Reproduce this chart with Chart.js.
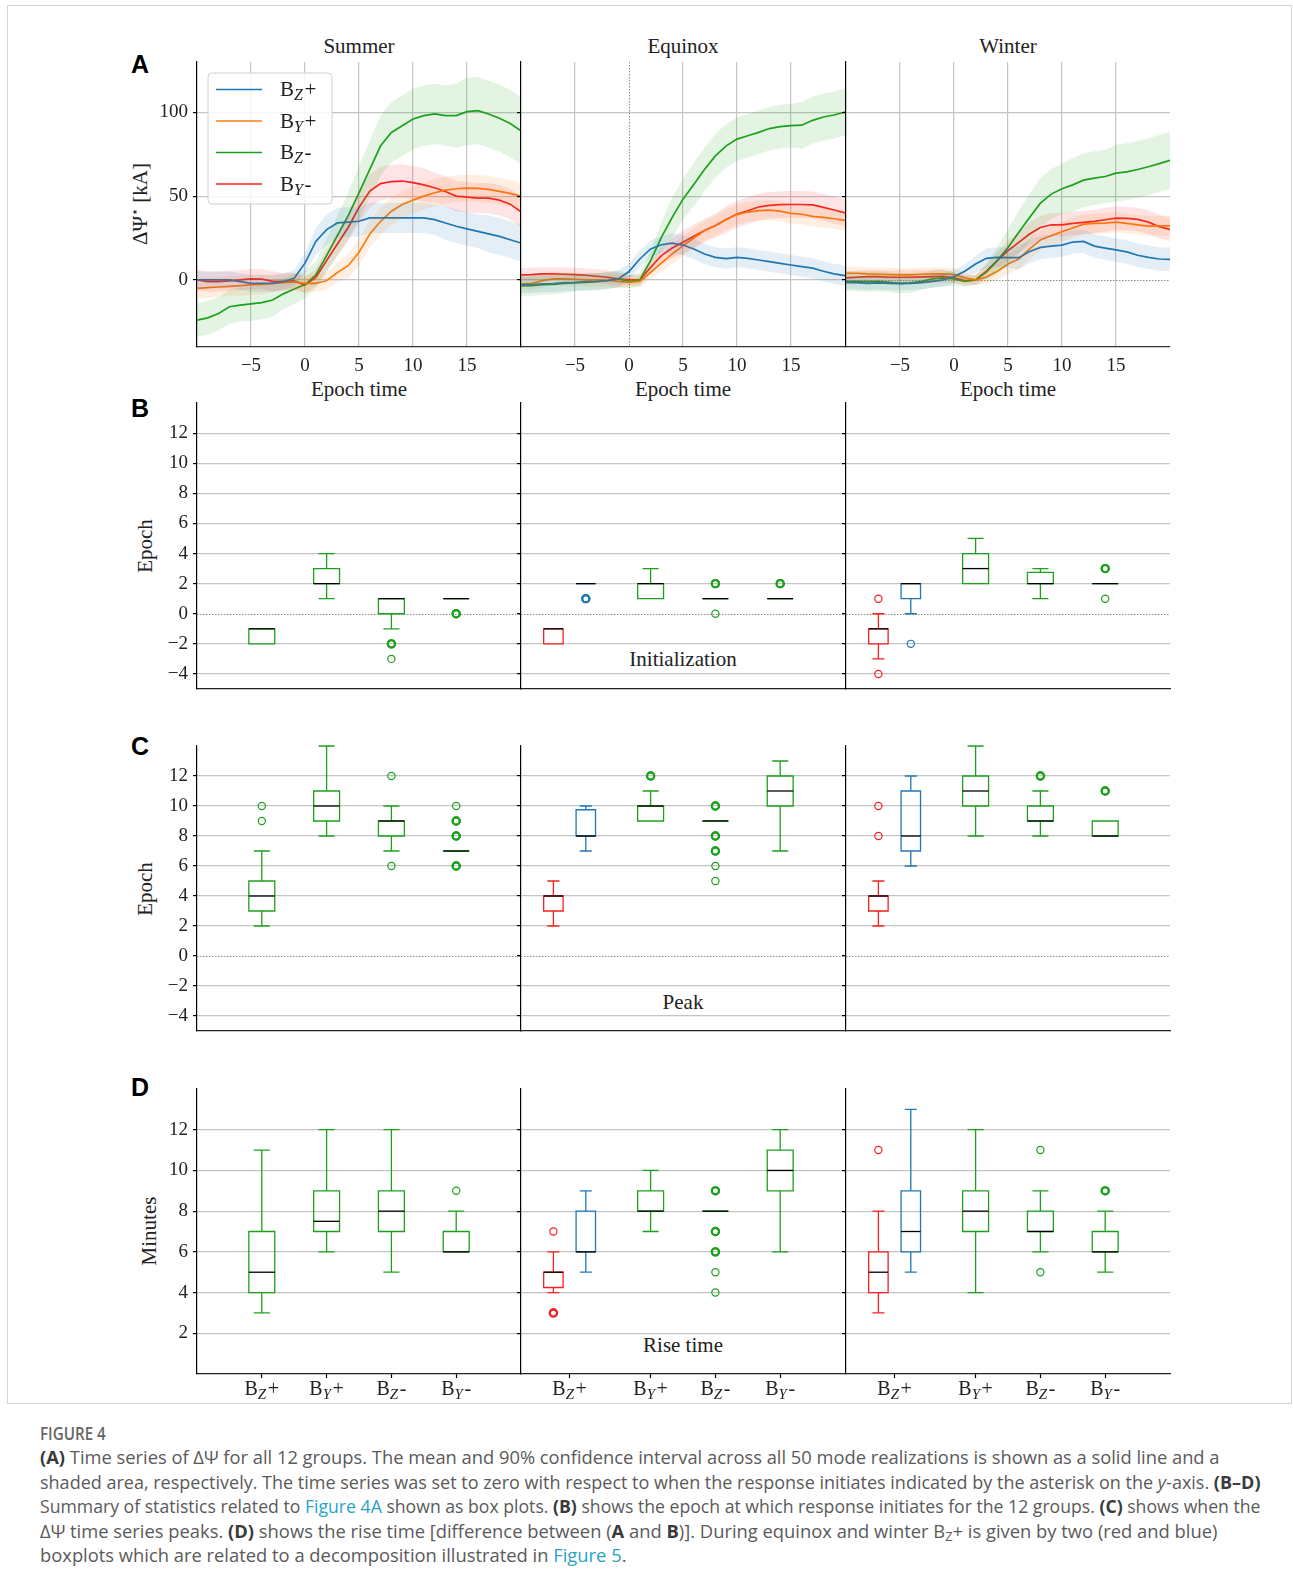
<!DOCTYPE html>
<html lang="en">
<head>
<meta charset="UTF-8">
<title>Figure 4</title>
<script src="https://cdn.jsdelivr.net/npm/chart.js"></script>
<style>
  body {
    margin: 0;
    background: #fff;
    width: 1293px;
    height: 1584px;
    position: relative;
    overflow: hidden;
    font-family: "Liberation Serif", "DejaVu Serif", serif;
  }
  .frame {
    position: absolute;
    left: 7px; top: 5px;
    width: 1283px; height: 1397px;
    border: 1px solid #d4d4d4;
  }
  canvas { position: absolute; }
  .t {
    position: absolute;
    transform: translate(-50%, -50%);
    white-space: nowrap;
    color: #222;
    font-size: 21px;
  }
  .rot { transform: translate(-50%, -50%) rotate(-90deg); }
  .letter {
    position: absolute;
    transform: translate(-50%, -50%);
    font-family: "Liberation Sans", Arial, sans-serif;
    font-weight: bold;
    font-size: 25px;
    color: #000;
  }
  .cap {
    position: absolute;
    left: 39.5px; top: 1421px;
    font-family: "Open Sans", "Noto Sans", sans-serif;
    font-size: 18px;
    line-height: 24.4px;
    color: #5a5a5a;
  }
  .cap div { white-space: nowrap; height: 24.4px; }
  .cap div > span { display: inline-block; transform-origin: 0 50%; }
  .cap .fig { font-weight: 600; color: #666; }
  .cap b { color: #3a3a3a; font-weight: 700; }
  .cap .lk { color: #2aa3c4; }
  .cap sub { font-size: 0.7em; line-height: 0; vertical-align: -0.25em; }
</style>
</head>
<body>
<div class="frame"></div>

<div class="t" style="left:359px; top:46px;">Summer</div>
<div class="t" style="left:683px; top:46px;">Equinox</div>
<div class="t" style="left:1008px; top:46px;">Winter</div>

<div class="t" style="left:359px; top:389px;">Epoch time</div>
<div class="t" style="left:683px; top:389px;">Epoch time</div>
<div class="t" style="left:1008px; top:389px;">Epoch time</div>

<div class="t rot" style="left:140px; top:204px;">ΔΨ<sup style="font-size:13px">⋆</sup> [kA]</div>
<div class="t rot" style="left:144.5px; top:546px;">Epoch</div>
<div class="t rot" style="left:144.5px; top:888.5px;">Epoch</div>
<div class="t rot" style="left:149px; top:1231px;">Minutes</div>

<div class="letter" style="left:140px; top:63.5px;">A</div>
<div class="letter" style="left:140px; top:408px;">B</div>
<div class="letter" style="left:140px; top:746px;">C</div>
<div class="letter" style="left:140px; top:1087px;">D</div>

<div class="t" style="left:683px; top:659px;">Initialization</div>
<div class="t" style="left:683px; top:1001.5px;">Peak</div>
<div class="t" style="left:683px; top:1345px;">Rise time</div>

<div class="cap" id="cap">
  <div class="fig"><span>FIGURE 4</span></div>
  <div><span><b>(A)</b> Time series of ΔΨ for all 12 groups. The mean and 90% confidence interval across all 50 mode realizations is shown as a solid line and a</span></div>
  <div><span>shaded area, respectively. The time series was set to zero with respect to when the response initiates indicated by the asterisk on the <i>y</i>-axis. <b>(B–D)</b></span></div>
  <div><span>Summary of statistics related to <span class="lk">Figure 4A</span> shown as box plots. <b>(B)</b> shows the epoch at which response initiates for the 12 groups. <b>(C)</b> shows when the</span></div>
  <div><span>ΔΨ time series peaks. <b>(D)</b> shows the rise time [difference between (<b>A</b> and <b>B</b>)]. During equinox and winter B<sub>Z</sub>+ is given by two (red and blue)</span></div>
  <div><span>boxplots which are related to a decomposition illustrated in <span class="lk">Figure 5</span>.</span></div>
</div>

<script>
  // ---- data: time series (A) ----
  const epochs = [-10,-9,-8,-7,-6,-5,-4,-3,-2,-1,0,1,2,3,4,5,6,7,8,9,10,11,12,13,14,15,16,17,18,19,20];

  // series order: Bz+, By+, Bz-, By-
  const summerBzp = [0,0,0,0,-1,-2,-2,-2,-1,1,10,23,30,34,34.5,35,37,37,37,37,37,37,36,34,32,30.5,29,27.5,26,24,22];
  const summerByp = [-5,-4.6,-4.2,-3.8,-3.4,-3,-2.6,-2,-1.6,-1.2,-2,-2,-0.5,4.4,8.5,16.5,27.4,35,41,45,47.6,50,52,53.6,54.4,54.8,54.6,54,52.8,51.6,50];
  const summerBzm = [-24,-22.6,-20,-16,-15,-14.3,-13.5,-12,-8.3,-5.4,-2.8,3,14.5,26.4,38.3,52,66,80,88,92,96,98,99,98,98,100.4,101,99,96.4,93.3,89];
  const summerBym = [0,-1,-1,-0.5,0,0.6,0.5,-0.8,-0.8,-0.6,-3,1.5,11.5,21.4,31.3,43.3,53,57.5,58.7,59,58,56.7,55,52.8,50,49.4,48.8,48.8,47.6,45.2,40.7];

  const equinoxBzp = [-2.8,-2.8,-2.4,-2.2,-1.6,-1.4,-1,-0.8,-0.4,0.6,5,12.5,18.5,21,22,20.8,18.5,15.5,13.5,12.7,13.5,12.9,11.9,10.9,9.9,8.9,7.9,7,5.2,3.6,2.6];
  const equinoxByp = [-2.4,-2,-0.4,0.6,0.6,0.4,0,0,-0.2,-0.8,-1.4,-0.8,4.5,10,15.5,20.4,25,29.4,32.3,36,39,40.5,41.3,41.7,41,39.7,39.2,37.9,37.3,36.5,35.5];
  const equinoxBzm = [-3.6,-3.4,-2.8,-2.6,-2,-1.8,-1.4,-1,-0.4,0.6,-0.8,0,11.5,25.4,37.3,48.2,57,66,74,80,84,86,88,90.3,91.5,92,92.3,95.2,97.2,98.4,100.2];
  const equinoxBym = [3,3.2,3.6,3.6,3.4,3.2,2.8,2.2,1.6,0.6,0,0,7.5,14.5,19,22.5,26,29.5,32.5,36,39.3,41.3,43.5,44.5,44.9,45,45,44.8,43.3,41.7,40];

  const winterBzp = [-1.4,-1.6,-2,-1.8,-2,-2.2,-2,-1.6,-0.8,0,2,5.2,9.5,12.9,13.5,13.3,13.3,17,19.4,20.2,20.8,22.6,23,20.2,19,17.9,16.7,14.7,13.5,12.5,12.3];
  const winterByp = [4,4,3.6,3.4,3.2,3,3,3.4,3.6,3.6,3.2,1.2,0,1.6,5.2,9.5,12.5,18.5,23.8,26.4,28.8,31,33.3,33.7,33.9,34.5,33.7,32.9,32.1,32.3,32.3];
  const winterBzm = [-0.8,-0.8,-1,-0.8,-1.4,-2,-1.8,-0.8,0.6,1.2,0.6,-0.8,0,4.6,11.5,19.4,28.4,37.3,45.8,51.2,54.4,56.7,59.5,60.7,61.7,63.7,64.5,65.9,67.5,69.4,71.4];
  const winterBym = [1.2,1.6,2,2,1.6,1.6,1.6,1.8,2,2.2,1.2,-0.4,0,5.2,11.5,17.5,22.4,27.4,31.3,32.9,32.9,33.7,34.3,34.9,35.9,36.9,36.7,36.1,34.5,31.7,30.2];

  // 90% interval half-widths
  const summerBzpCI = [5,5,5,5,5,5,5,5,5,5,6,8,9,9,9,9,9,9,9,9,9,9,9,10,10,10,10,11,11,11,11];
  const summerBypCI = [6,6,6,6,6,6,6,5,5,5,5,5,5,6,7,8,8,8,8,8,8,8,8,8,8,8,8,8,8,8,8];
  const summerBzmCI = [10,10,10,10,10,10,10,10,9,9,8,8,10,12,14,16,17,18,18,18,18,18,18,18,19,20,20,20,20,20,20];
  const summerBymCI = [6,6,6,6,6,6,6,6,5,5,5,5,6,7,8,9,10,10,10,10,10,10,9,9,9,9,9,9,9,9,9];

  const equinoxBzpCI = [5,5,5,5,5,5,5,5,5,5,5,5,5,5,6,6,6,6,6,6,6,6,6,6,6,6,6,6,6,6,6];
  const equinoxBypCI = [4,4,4,4,4,4,4,4,4,4,3,3,4,5,6,6,6,6,6,6,6,6,6,6,6,6,6,6,6,6,6];
  const equinoxBzmCI = [6,6,6,6,6,5,5,5,5,5,4,4,6,9,12,12,13,13,13,13,13,13,13,13,13,13,14,14,14,14,14];
  const equinoxBymCI = [4,4,4,4,4,4,4,4,4,4,3,3,4,5,6,7,7,7,7,8,8,8,8,8,8,8,8,8,8,8,8];

  const winterBzpCI = [4,4,4,4,4,4,4,4,4,4,4,4,5,6,6,6,7,7,7,7,7,7,7,7,7,7,7,7,7,7,7];
  const winterBypCI = [4,4,4,4,4,4,4,4,4,4,4,3,3,4,5,6,6,6,6,6,6,6,6,6,6,6,6,6,6,6,6];
  const winterBzmCI = [6,6,6,6,6,6,6,5,5,5,4,3,3,5,8,11,13,14,15,15,15,16,16,16,16,17,17,17,17,17,17];
  const winterBymCI = [4,4,4,4,4,4,4,4,4,4,3,3,3,4,5,6,6,7,7,7,7,7,7,7,7,7,7,7,7,7,7];

  const timeXTicks = [-5, 0, 5, 10, 15];
  const timeYTicks = [0, 50, 100];

  // ---- data: box plots (B-D), each box = [q1, q3, median, whiskerLow, whiskerHigh] ----
  const summerSlots = [1, 2, 3, 4];
  const splitSlots = [0.5, 1, 2, 3, 4];          // red, blue, By+, Bz-, By-
  const summerTickSlots = [1, 2, 3, 4];
  const splitTickSlots = [0.75, 2, 3, 4];
  const groupLabels = [['Z', '+'], ['Y', '+'], ['Z', '-'], ['Y', '-']];

  const initSummer = [[-2,-1,-1,-2,-1],[2,3,2,1,4],[0,1,1,-1,1],[1,1,1,1,1]];
  const initSummerOut = [[],[],[-2,-2,-3],[0,0]];
  const initEquinox = [[-2,-1,-1,-2,-1],[2,2,2,2,2],[1,2,2,1,3],[1,1,1,1,1],[1,1,1,1,1]];
  const initEquinoxOut = [[],[1,1],[],[2,2,0],[2,2]];
  const initWinter = [[-2,-1,-1,-3,0],[1,2,2,0,2],[2,4,3,2,5],[2,2.75,2,1,3],[2,2,2,2,2]];
  const initWinterOut = [[1,-4],[-2],[],[],[3,3,1]];

  const peakSummer = [[3,5,4,2,7],[9,11,10,8,14],[8,9,9,7,10],[7,7,7,7,7]];
  const peakSummerOut = [[9,10],[],[12,6],[10,9,9,8,8,6,6]];
  const peakEquinox = [[3,4,4,2,5],[8,9.75,8,7,10],[9,10,10,9,11],[9,9,9,9,9],[10,12,11,7,13]];
  const peakEquinoxOut = [[],[],[12,12],[10,10,8,8,7,7,6,5],[]];
  const peakWinter = [[3,4,4,2,5],[7,11,8,6,12],[10,12,11,8,14],[9,10,9,8,11],[8,9,8,8,9]];
  const peakWinterOut = [[10,8],[],[],[12,12],[11,11]];

  const riseSummer = [[4,7,5,3,11],[7,9,7.5,6,12],[7,9,8,5,12],[6,7,6,6,8]];
  const riseSummerOut = [[],[],[],[9]];
  const riseEquinox = [[4.25,5,5,4,6],[6,8,6,5,9],[8,9,8,7,10],[8,8,8,8,8],[9,11,10,6,12]];
  const riseEquinoxOut = [[7,3,3],[],[],[9,9,7,7,6,6,5,4],[]];
  const riseWinter = [[4,6,5,3,8],[6,9,7,5,13],[7,9,8,4,12],[7,8,7,6,9],[6,7,6,5,8]];
  const riseWinterOut = [[11],[],[],[11,5],[9,9]];

  const epochYTicks = [-4,-2,0,2,4,6,8,10,12];
  const minuteYTicks = [2,4,6,8,10,12];

  // ---- styles ----
  const BLUE = '#1f77b4', ORANGE = '#ff7f0e', GREEN = '#1ca11c', RED = '#f82020';
  const seriesColors = [BLUE, ORANGE, GREEN, RED];
  const summerBoxColors = [GREEN, GREEN, GREEN, GREEN];
  const splitBoxColors = [RED, BLUE, GREEN, GREEN, GREEN];
  const summerBoxWidths = [0.4, 0.4, 0.4, 0.4];
  const splitBoxWidths = [0.3, 0.3, 0.4, 0.4, 0.4];
  const SERIF = "'Liberation Serif', 'DejaVu Serif', serif";
  const GRID = '#c4c4c4';
  const TXT = '#222';

  const COL_X = [197, 521, 846];
  const PW = 324;
  const ROW_Y = { A: [62, 347], B: [403, 689], C: [746, 1031], D: [1089, 1374] };
  const YW = 70, XH = 40, PT = 4, PR = 6;

  function rgba(hex, a) {
    const n = parseInt(hex.slice(1), 16);
    return `rgba(${n >> 16},${(n >> 8) & 255},${n & 255},${a})`;
  }
  function fmt(v) { return v < 0 ? '\u2212' + Math.abs(v) : String(v); }
  const xy = arr => epochs.map((t, i) => ({ x: t, y: arr[i] }));

  function makeCanvas(col, row) {
    const c = document.createElement('canvas');
    const [top, bottom] = ROW_Y[row];
    c.width = YW + PW + PR;
    c.height = PT + (bottom - top) + XH;
    c.style.left = (COL_X[col] - YW) + 'px';
    c.style.top = (top - PT) + 'px';
    document.body.appendChild(c);
    return c;
  }

  // B with italic subscript, e.g. B_Z+
  function drawB(ctx, x, yMid, sub, suf, size, align) {
    const main = size + 'px ' + SERIF;
    const small = 'italic ' + Math.round(size * 0.76) + 'px ' + SERIF;
    ctx.font = main;
    const wB = ctx.measureText('B').width, wS = ctx.measureText(suf).width;
    ctx.font = small;
    const wZ = ctx.measureText(sub).width + size * 0.08;
    const x0 = align === 'center' ? x - (wB + wZ + wS) / 2 : x;
    const base = yMid + size * 0.33;
    ctx.textAlign = 'left';
    ctx.textBaseline = 'alphabetic';
    ctx.fillStyle = TXT;
    ctx.font = main; ctx.fillText('B', x0, base);
    ctx.font = small; ctx.fillText(sub, x0 + wB, base + size * 0.17);
    ctx.font = main; ctx.fillText(suf, x0 + wB + wZ, base);
  }

  function dottedPlugin(lines) {
    return {
      id: 'dotted',
      beforeDatasetsDraw(chart) {
        const { ctx, chartArea: a, scales: { x, y } } = chart;
        ctx.save();
        ctx.strokeStyle = '#8a8a8a';
        ctx.lineWidth = 1;
        ctx.setLineDash([1.5, 1.5]);
        lines.forEach(l => {
          ctx.beginPath();
          if (l.axis === 'y') {
            const p = Math.round(y.getPixelForValue(l.value)) + 0.5;
            ctx.moveTo(a.left, p); ctx.lineTo(a.right, p);
          } else {
            const p = Math.round(x.getPixelForValue(l.value)) + 0.5;
            ctx.moveTo(p, a.top); ctx.lineTo(p, a.bottom);
          }
          ctx.stroke();
        });
        ctx.restore();
      }
    };
  }

  const legendPlugin = {
    id: 'legendBox',
    afterDraw(chart) {
      const { ctx, chartArea: a } = chart;
      const x0 = a.left + 11, y0 = a.top + 11, w = 124, h = 131, r = 4;
      ctx.save();
      ctx.beginPath();
      ctx.moveTo(x0 + r, y0);
      ctx.arcTo(x0 + w, y0, x0 + w, y0 + h, r);
      ctx.arcTo(x0 + w, y0 + h, x0, y0 + h, r);
      ctx.arcTo(x0, y0 + h, x0, y0, r);
      ctx.arcTo(x0, y0, x0 + w, y0, r);
      ctx.closePath();
      ctx.fillStyle = 'rgba(255,255,255,0.85)';
      ctx.fill();
      ctx.strokeStyle = '#d0d0d0';
      ctx.lineWidth = 1;
      ctx.stroke();
      groupLabels.forEach((p, i) => {
        const yy = y0 + 16.5 + i * 31.5;
        ctx.strokeStyle = seriesColors[i];
        ctx.lineWidth = 1.7;
        ctx.beginPath();
        ctx.moveTo(x0 + 8, yy); ctx.lineTo(x0 + 54, yy);
        ctx.stroke();
        drawB(ctx, x0 + 72, yy, p[0], p[1], 21, 'left');
      });
      ctx.restore();
    }
  };

  function boxPlugin(stats, slots, colors, widths) {
    return {
      id: 'boxes',
      beforeDatasetsDraw(chart) {
        const { ctx, scales: { x, y } } = chart;
        ctx.save();
        ctx.lineWidth = 1.3;
        stats.forEach((s, i) => {
          const [q1, q3, med, lo, hi] = s;
          const cx = x.getPixelForValue(slots[i]);
          const hw = x.getPixelForValue(slots[i] + widths[i] / 2) - cx;
          const cw = hw * 0.62;
          const p = v => y.getPixelForValue(v);
          ctx.strokeStyle = colors[i];
          ctx.beginPath();
          ctx.rect(cx - hw, p(q3), 2 * hw, p(q1) - p(q3));
          ctx.moveTo(cx, p(q1)); ctx.lineTo(cx, p(lo));
          ctx.moveTo(cx, p(q3)); ctx.lineTo(cx, p(hi));
          ctx.moveTo(cx - cw, p(lo)); ctx.lineTo(cx + cw, p(lo));
          ctx.moveTo(cx - cw, p(hi)); ctx.lineTo(cx + cw, p(hi));
          ctx.stroke();
          ctx.strokeStyle = '#000';
          ctx.beginPath();
          ctx.moveTo(cx - hw, p(med)); ctx.lineTo(cx + hw, p(med));
          ctx.stroke();
        });
        ctx.restore();
      }
    };
  }

  function tickLabelPlugin(tickSlots) {
    return {
      id: 'tickLabels',
      afterDraw(chart) {
        const { ctx, chartArea: a, scales: { x } } = chart;
        ctx.save();
        tickSlots.forEach((s, i) => {
          drawB(ctx, x.getPixelForValue(s), a.bottom + 14.5, groupLabels[i][0], groupLabels[i][1], 20, 'center');
        });
        ctx.restore();
      }
    };
  }

  function yScale(min, max, ticks, showLabels, hideZero) {
    return {
      type: 'linear', min: min, max: max,
      afterBuildTicks: s => { s.ticks = ticks.map(v => ({ value: v })); },
      afterFit: s => { s.width = YW; s.paddingTop = 0; s.paddingBottom = 0; },
      ticks: { display: showLabels, font: { family: SERIF, size: 19 }, color: TXT, padding: 5, callback: v => fmt(v) },
      grid: {
        color: c => (hideZero && c.tick && c.tick.value === 0) ? 'rgba(0,0,0,0)' : GRID,
        lineWidth: 1.2, tickColor: '#000', tickLength: 4, tickWidth: 1.2
      },
      border: { color: '#000', width: 1.2 }
    };
  }

  function baseOptions(scales) {
    return {
      responsive: false,
      animation: false,
      devicePixelRatio: 1,
      events: [],
      layout: { padding: { top: PT, right: PR, left: 0, bottom: 0 }, autoPadding: false },
      plugins: { legend: { display: false }, tooltip: { enabled: false } },
      scales: scales
    };
  }

  function timeChart(col, means, cis, opts) {
    const datasets = [];
    means.forEach((m, k) => {
      datasets.push({ data: xy(m.map((v, i) => v + cis[k][i])), borderWidth: 0, pointRadius: 0, fill: '+1', backgroundColor: rgba(seriesColors[k], 0.12) });
      datasets.push({ data: xy(m.map((v, i) => v - cis[k][i])), borderWidth: 0, pointRadius: 0, fill: false });
    });
    means.forEach((m, k) => {
      datasets.push({ data: xy(m), borderColor: seriesColors[k], borderWidth: 1.7, pointRadius: 0, fill: false, tension: 0 });
    });
    const dotted = [];
    if (opts.dotX) dotted.push({ axis: 'x', value: 0 });
    if (opts.dotY) dotted.push({ axis: 'y', value: 0 });
    const plugins = [dottedPlugin(dotted)];
    if (opts.legend) plugins.push(legendPlugin);
    new Chart(makeCanvas(col, 'A'), {
      type: 'line',
      data: { datasets: datasets },
      options: baseOptions({
        x: {
          type: 'linear', min: -10, max: 20,
          afterBuildTicks: s => { s.ticks = timeXTicks.map(v => ({ value: v })); },
          afterFit: s => { s.height = XH; s.paddingLeft = 0; s.paddingRight = 0; },
          ticks: { font: { family: SERIF, size: 19 }, color: TXT, padding: 8, callback: v => fmt(v) },
          grid: { color: c => (opts.dotX && c.tick && c.tick.value === 0) ? 'rgba(0,0,0,0)' : GRID, lineWidth: 1.2, drawTicks: false },
          border: { color: '#333', width: 1.2 }
        },
        y: yScale(-40, 130, timeYTicks, col === 0, opts.dotY)
      }),
      plugins: plugins
    });
  }

  function boxChart(col, row, stats, outs, slots, colors, widths, tickSlots) {
    // repeated outlier values are drawn heavier, as overplotted markers are
    const datasets = outs.map((o, i) => ({
      data: o.map(v => ({ x: slots[i], y: v })),
      pointStyle: 'circle', pointRadius: 3.6,
      pointBorderWidth: o.map(v => o.filter(u => u === v).length > 1 ? 2.1 : 1.2),
      borderColor: colors[i], backgroundColor: 'rgba(0,0,0,0)', showLine: false
    }));
    const isD = row === 'D';
    const plugins = [boxPlugin(stats, slots, colors, widths)];
    if (!isD) plugins.unshift(dottedPlugin([{ axis: 'y', value: 0 }]));
    else plugins.push(tickLabelPlugin(tickSlots));
    new Chart(makeCanvas(col, row), {
      type: 'scatter',
      data: { datasets: datasets },
      options: baseOptions({
        x: {
          type: 'linear', min: 0, max: 5,
          afterBuildTicks: s => { s.ticks = (isD ? tickSlots : []).map(v => ({ value: v })); },
          afterFit: s => { s.height = XH; s.paddingLeft = 0; s.paddingRight = 0; },
          ticks: { display: false },
          grid: { drawOnChartArea: false, drawTicks: isD, tickLength: 4, tickColor: '#000', tickWidth: 1.2 },
          border: { color: '#222', width: 1.2 }
        },
        y: isD ? yScale(0, 14, minuteYTicks, col === 0, false) : yScale(-5, 14, epochYTicks, col === 0, true)
      }),
      plugins: plugins
    });
  }

  // ---- row A ----
  timeChart(0, [summerBzp, summerByp, summerBzm, summerBym], [summerBzpCI, summerBypCI, summerBzmCI, summerBymCI], { legend: true });
  timeChart(1, [equinoxBzp, equinoxByp, equinoxBzm, equinoxBym], [equinoxBzpCI, equinoxBypCI, equinoxBzmCI, equinoxBymCI], { dotX: true });
  timeChart(2, [winterBzp, winterByp, winterBzm, winterBym], [winterBzpCI, winterBypCI, winterBzmCI, winterBymCI], { dotY: true });

  // ---- rows B-D ----
  boxChart(0, 'B', initSummer, initSummerOut, summerSlots, summerBoxColors, summerBoxWidths, summerTickSlots);
  boxChart(1, 'B', initEquinox, initEquinoxOut, splitSlots, splitBoxColors, splitBoxWidths, splitTickSlots);
  boxChart(2, 'B', initWinter, initWinterOut, splitSlots, splitBoxColors, splitBoxWidths, splitTickSlots);

  boxChart(0, 'C', peakSummer, peakSummerOut, summerSlots, summerBoxColors, summerBoxWidths, summerTickSlots);
  boxChart(1, 'C', peakEquinox, peakEquinoxOut, splitSlots, splitBoxColors, splitBoxWidths, splitTickSlots);
  boxChart(2, 'C', peakWinter, peakWinterOut, splitSlots, splitBoxColors, splitBoxWidths, splitTickSlots);

  boxChart(0, 'D', riseSummer, riseSummerOut, summerSlots, summerBoxColors, summerBoxWidths, summerTickSlots);
  boxChart(1, 'D', riseEquinox, riseEquinoxOut, splitSlots, splitBoxColors, splitBoxWidths, splitTickSlots);
  boxChart(2, 'D', riseWinter, riseWinterOut, splitSlots, splitBoxColors, splitBoxWidths, splitTickSlots);

  // squeeze each caption line to the width it has in the printed figure
  (function fitCaption() {
    const lineWidths = [65.7, 1179.5, 1220.5, 1220.5, 1177.5, 586.5];
    document.querySelectorAll('#cap > div > span').forEach((s, i) => {
      const w = s.getBoundingClientRect().width;
      if (w > 0) s.style.transform = 'scaleX(' + (lineWidths[i] / w).toFixed(4) + ')';
    });
  })();
</script>
</body>
</html>
